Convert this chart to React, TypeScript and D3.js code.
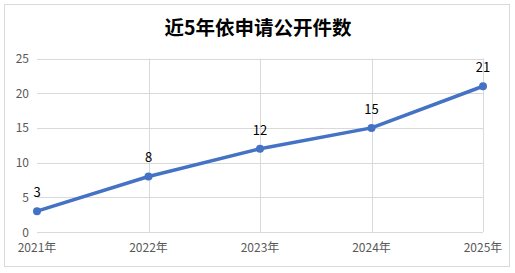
import React from "react";
import * as d3 from "d3";

const categories = ["2021年", "2022年", "2023年", "2024年", "2025年"];
const values = [3, 8, 12, 15, 21];
const yTicks = [0, 5, 10, 15, 20, 25];
const title = "近5年依申请公开件数";

export default function App() {
  const W = 515, H = 273;
  const x = d3.scalePoint<string>().domain(categories).range([37, 483]);
  const y = d3.scaleLinear().domain([0, 25]).range([232, 58.5]);
  const line = d3.line<number>().x((_, i) => x(categories[i])!).y((d) => y(d));
  const font = "'Microsoft YaHei', 'Noto Sans CJK SC', 'DejaVu Sans', sans-serif";
  return (
    <svg width={W} height={H} style={{ position: "absolute", left: 0, top: 0 }} fontFamily={font}>
      <rect x={4.5} y={4.5} width={505} height={262} fill="#fff" stroke="#d9d9d9" />
      <text x={258} y={35} textAnchor="middle" fontSize={19.5} fontWeight="bold" fill="#000">{title}</text>
      {yTicks.map((t) => (
        <g key={t}>
          <line x1={37} x2={483} y1={Math.round(y(t)) + 0.5} y2={Math.round(y(t)) + 0.5} stroke="#d9d9d9" />
          <text x={29} y={y(t) + 4.5} textAnchor="end" fontSize={12} fill="#595959">{t}</text>
        </g>
      ))}
      {categories.map((c, i) => (
        <g key={c}>
          {i > 0 && <line x1={Math.round(x(c)!) + 0.5} x2={Math.round(x(c)!) + 0.5} y1={y(25)} y2={y(0)} stroke="#d9d9d9" />}
          <text x={x(c)!} y={252} textAnchor="middle" fontSize={12} fill="#595959">{c}</text>
        </g>
      ))}
      <path d={line(values)!} fill="none" stroke="#4472C4" strokeWidth={3.5} strokeLinejoin="round" />
      {values.map((v, i) => (
        <g key={i}>
          <circle cx={x(categories[i])!} cy={y(v)} r={4} fill="#4472C4" />
          <text x={x(categories[i])!} y={y(v) - 14} textAnchor="middle" fontSize={13} fill="#000">{v}</text>
        </g>
      ))}
    </svg>
  );
}
